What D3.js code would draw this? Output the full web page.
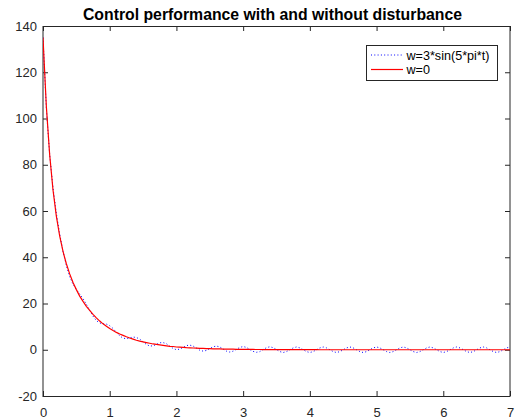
<!DOCTYPE html>
<html><head><meta charset="utf-8">
<script src="https://cdn.jsdelivr.net/npm/d3@7/dist/d3.min.js"></script>
<style>
body{margin:0;background:#fff}
text{font-family:"Liberation Sans",Arial,Helvetica,sans-serif}
</style>
</head><body>
<svg id="chart" width="521" height="419"></svg>
<script>
// ---- data ----
const time = [0,0.05,0.1,0.15,0.2,0.25,0.3,0.35,0.4,0.45,0.5,0.55,0.6,0.65,0.7,0.75,0.8,0.85,0.9,0.95,
1,1.05,1.1,1.15,1.2,1.25,1.3,1.35,1.4,1.45,1.5,1.55,1.6,1.65,1.7,1.75,1.8,1.85,1.9,1.95,
2,2.05,2.1,2.15,2.2,2.25,2.3,2.35,2.4,2.45,2.5,2.55,2.6,2.65,2.7,2.75,2.8,2.85,2.9,2.95,
3,3.05,3.1,3.15,3.2,3.25,3.3,3.35,3.4,3.45,3.5,3.55,3.6,3.65,3.7,3.75,3.8,3.85,3.9,3.95,
4,4.05,4.1,4.15,4.2,4.25,4.3,4.35,4.4,4.45,4.5,4.55,4.6,4.65,4.7,4.75,4.8,4.85,4.9,4.95,
5,5.05,5.1,5.15,5.2,5.25,5.3,5.35,5.4,5.45,5.5,5.55,5.6,5.65,5.7,5.75,5.8,5.85,5.9,5.95,
6,6.05,6.1,6.15,6.2,6.25,6.3,6.35,6.4,6.45,6.5,6.55,6.6,6.65,6.7,6.75,6.8,6.85,6.9,6.95,7];

// w = 0 (red, solid)
const noDisturbance = [135,105.3,84.3,69.1,57.8,49.2,42.5,37.2,32.8,29.1,26.0,23.2,20.9,18.8,17.0,15.3,13.8,12.4,11.2,10.2,
9.2,8.3,7.5,6.8,6.2,5.6,5.1,4.6,4.1,3.7,3.4,3.1,2.8,2.5,2.3,2.1,1.9,1.7,1.5,1.4,
1.2,1.1,1.0,0.9,0.84,0.76,0.69,0.62,0.56,0.51,0.46,0.41,0.37,0.34,0.31,0.28,0.25,0.23,0.2,0.19,
0.17,0.15,0.14,0.12,0.11,0.1,0.09,0.08,0.07,0.07,0.06,0.05,0.05,0.04,0.04,0.04,0.03,0.03,0.03,0.02,
0.02,0.02,0.02,0.01,0.01,0.01,0.01,0.01,0.01,0,0,0,0,0,0,0,0,0,0,0,
0,0,0,0,0,0,0,0,0,0,0,0,0,0,0,0,0,0,0,0,
0,0,0,0,0,0,0,0,0,0,0,0,0,0,0,0,0,0,0,0,0];

// w = 3*sin(5*pi*t) (blue, dotted)
const withDisturbance = [135,104.5,84.3,70.0,59.0,50.1,42.5,36.4,31.6,28.3,26.0,24.1,22.1,19.7,17.0,14.5,12.6,11.6,11.2,11.1,
10.4,9.2,7.5,6.0,5.0,4.8,5.1,5.5,5.3,4.6,3.4,2.3,1.6,1.7,2.3,3.0,3.1,2.6,1.5,0.6,
0.0,0.3,1.0,1.8,2.0,1.6,0.7,-0.2,-0.6,-0.3,0.5,1.3,1.6,1.2,0.3,-0.6,-1.0,-0.6,0.2,1.0,
1.4,1.0,0.1,-0.7,-1.1,-0.8,0.1,0.9,1.3,0.9,0.1,-0.8,-1.2,-0.8,0,0.8,1.2,0.8,0,-0.8,
-1.2,-0.8,0,0.8,1.2,0.8,0,-0.8,-1.2,-0.8,0,0.8,1.2,0.8,0,-0.8,-1.2,-0.8,0,0.8,
1.2,0.8,0,-0.8,-1.2,-0.8,0,0.8,1.2,0.8,0,-0.8,-1.2,-0.8,0,0.8,1.2,0.8,0,-0.8,
-1.2,-0.8,0,0.8,1.2,0.8,0,-0.8,-1.2,-0.8,0,0.8,1.2,0.8,0,-0.8,-1.2,-0.8,0,0.8,1.2];

const xTicks = [0,1,2,3,4,5,6,7];
const yTicks = [-20,0,20,40,60,80,100,120,140];
const titleText = "Control performance with and without disturbance";
const legendLabels = ["w=3*sin(5*pi*t)", "w=0"];

// ---- drawing ----
const svg = d3.select("#chart");
const L = 43, R = 510, T = 26, B = 396;
const axisColor = "#262626";
const x = d3.scaleLinear().domain([0,7]).range([L,R]);
const y = d3.scaleLinear().domain([-20,140]).range([B,T]);
const fmt = d => String(d);

svg.append("defs").append("clipPath").attr("id","clip")
  .append("rect").attr("x",L).attr("y",T).attr("width",R-L).attr("height",B-T);

function styleAxis(g){
  g.select(".domain").remove();
  g.selectAll("line").attr("stroke",axisColor);
  g.selectAll("text").attr("fill",axisColor).style("font-size","13px");
}

// bottom axis
svg.append("g").attr("transform",`translate(0,${B})`)
  .call(d3.axisBottom(x).tickValues(xTicks).tickSize(-5).tickPadding(12).tickFormat(fmt))
  .call(styleAxis);
// top axis (ticks only)
svg.append("g").attr("transform",`translate(0,${T})`)
  .call(d3.axisTop(x).tickValues(xTicks).tickSize(-5).tickFormat(""))
  .call(styleAxis);
// left axis
svg.append("g").attr("transform",`translate(${L},0)`)
  .call(d3.axisLeft(y).tickValues(yTicks).tickSize(-5).tickPadding(6).tickFormat(fmt))
  .call(styleAxis);
// right axis (ticks only)
svg.append("g").attr("transform",`translate(${R},0)`)
  .call(d3.axisRight(y).tickValues(yTicks).tickSize(-5).tickFormat(""))
  .call(styleAxis);

// box
svg.append("rect").attr("x",L).attr("y",T+0.5).attr("width",R-L).attr("height",B-T)
  .attr("fill","none").attr("stroke",axisColor).attr("stroke-width",1);

const line = d3.line().x((d,i)=>x(time[i])).y(d=>y(d));
const plot = svg.append("g").attr("clip-path","url(#clip)");
plot.append("path").datum(withDisturbance).attr("d",line)
  .attr("fill","none").attr("stroke","#0000ff").attr("stroke-width",1).attr("stroke-dasharray","1,2.3");
plot.append("path").datum(noDisturbance).attr("d",line)
  .attr("fill","none").attr("stroke","#ff0000").attr("stroke-width",1.2);

// title
svg.append("text").attr("x",(L+R)/2 - 4).attr("y",20).attr("text-anchor","middle")
  .style("font-size","15.8px").style("font-weight","bold").attr("fill","#000").text(titleText);

// legend
const lg = svg.append("g");
lg.append("rect").attr("x",366.5).attr("y",45.5).attr("width",131).attr("height",35)
  .attr("fill","#fff").attr("stroke",axisColor).attr("stroke-width",1);
const rows = [{c:"#0000ff",dash:"1,2.3",y:55},{c:"#ff0000",dash:null,y:69.5}];
rows.forEach((r,i)=>{
  lg.append("line").attr("x1",371).attr("x2",403).attr("y1",r.y).attr("y2",r.y)
    .attr("stroke",r.c).attr("stroke-width",i===0?1:1.2).attr("stroke-dasharray",r.dash);
  lg.append("text").attr("x",406.5).attr("y",r.y+4.5).style("font-size","12.6px")
    .attr("fill","#000").text(legendLabels[i]);
});
</script>
</body></html>
